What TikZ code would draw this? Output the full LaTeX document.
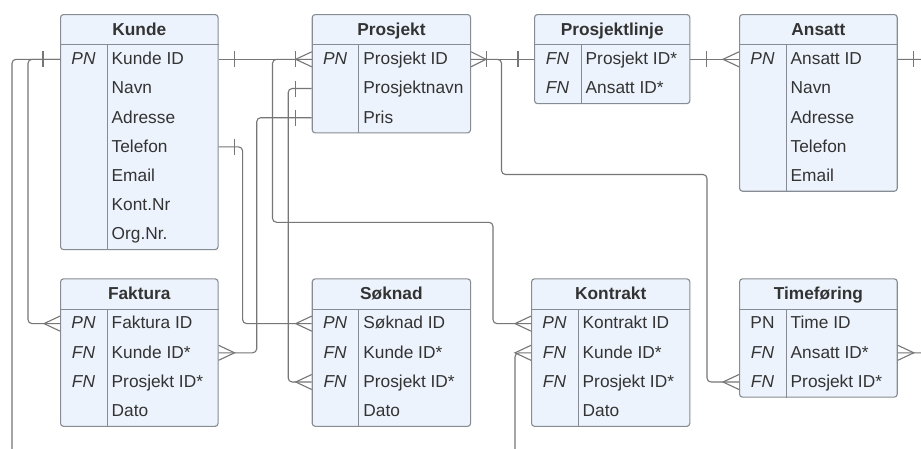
\documentclass[tikz,border=0pt]{standalone}
\usepackage{fontspec}
\setmainfont{Liberation Sans}
\usetikzlibrary{calc}

\definecolor{tblfill}{RGB}{237,243,252}
\definecolor{tbledge}{RGB}{135,140,148}
\definecolor{connline}{RGB}{118,118,118}
\definecolor{txt}{RGB}{51,51,51}

\tikzset{
  tablebox/.style={draw=tbledge, fill=tblfill, line width=1.1pt, rounded corners=3pt,
    inner sep=0pt, anchor=north west},
  tablerule/.style={draw=tbledge, line width=1pt},
  titletext/.style={font=\fontsize{17.3}{20}\selectfont\bfseries, text=txt, inner sep=0pt, anchor=base},
  keytext/.style={font=\fontsize{17.3}{20}\selectfont, text=txt, inner sep=0pt, anchor=base},
  attrtext/.style={font=\fontsize{17.3}{20}\selectfont, text=txt, inner sep=0pt, anchor=base west},
  conn/.style={draw=connline, line width=1.1pt, rounded corners=4pt},
  endmark/.style={draw=connline, line width=1.1pt},
}

\newcommand\keyPN{\textit{PN}}
\newcommand\keyFN{\textit{FN}}

% entity table: name, left, top, width, number of rows, title, key/attribute list
\newcommand\ertable[7]{%
  \node[tablebox, minimum width=#4pt, minimum height={30.7pt+#5*29.2pt}] (#1) at (#2,#3) {};
  \draw[tablerule] ($(#1.north west)+(0,30.7)$) -- ($(#1.north east)+(0,30.7)$);
  \draw[tablerule] ($(#1.north west)+(47,30.7)$) -- ($(#1.south west)+(47,0)$);
  \node[titletext] (#1-title) at ($(#1.north)+(0,21)$) {#6};
  \foreach \k/\a [count=\i] in {#7} {
    \coordinate (#1-\i-w) at ($(#1.north west)+(0,{30.7+(\i-0.5)*29.2})$);
    \coordinate (#1-\i-e) at ($(#1.north east)+(0,{30.7+(\i-0.5)*29.2})$);
    \node[keytext] (#1-\i-key) at ($(#1-\i-w)+(23.5,5.3)$) {\k};
    \node[attrtext] (#1-\i-attr) at ($(#1-\i-w)+(51.5,5.3)$) {\a};
  }%
}

% "one" bar across a connector, offset along the line from an end point
\newcommand\onebar[2]{\draw[endmark] ($(#1)+(#2,-8)$) -- ($(#1)+(#2,8)$);}
% "many" crow's foot at an end point, tip offset along the line
\newcommand\crowfoot[2]{\draw[endmark] ($(#1)+(0,-7.5)$) -- ($(#1)+(#2,0)$) -- ($(#1)+(0,7.5)$);}

\begin{document}
\begin{tikzpicture}[x=1pt, y=-1pt]
  \fill[white] (0,0) rectangle (921,448);
  \clip (0,0) rectangle (921,448);

  % ---- tables ----
  \ertable{kunde}{60}{14}{157.5}{7}{Kunde}{%
    \keyPN/Kunde ID, {}/Navn, {}/Adresse, {}/Telefon, {}/Email, {}/Kont.Nr, {}/Org.Nr.}
  \ertable{prosjekt}{311.7}{14}{158.3}{3}{Prosjekt}{%
    \keyPN/Prosjekt ID, {}/Prosjektnavn, {}/Pris}
  \ertable{prosjektlinje}{534}{14}{155.3}{2}{Prosjektlinje}{%
    \keyFN/Prosjekt ID*, \keyFN/Ansatt ID*}
  \ertable{ansatt}{739}{14}{157.7}{5}{Ansatt}{%
    \keyPN/Ansatt ID, {}/Navn, {}/Adresse, {}/Telefon, {}/Email}
  \ertable{faktura}{60}{278.3}{157.5}{4}{Faktura}{%
    \keyPN/Faktura ID, \keyFN/Kunde ID*, \keyFN/Prosjekt ID*, {}/Dato}
  \ertable{soknad}{311.7}{278.3}{158.3}{4}{Søknad}{%
    \keyPN/Søknad ID, \keyFN/Kunde ID*, \keyFN/Prosjekt ID*, {}/Dato}
  \ertable{kontrakt}{531}{278.3}{158.3}{4}{Kontrakt}{%
    \keyPN/Kontrakt ID, \keyFN/Kunde ID*, \keyFN/Prosjekt ID*, {}/Dato}
  \ertable{timeforing}{739}{278.3}{157.7}{3}{Timeføring}{%
    PN/Time ID, \keyFN/Ansatt ID*, \keyFN/Prosjekt ID*}

  % ---- routing points ----
  \coordinate (kundeLoop) at (12,470);
  \coordinate (kontraktTurn) at (272.5,222.3);
  \coordinate (timeTurn) at (501.5,174.5);
  \coordinate (ansattLoop) at (945,200);

  % ---- connectors ----
  % Kunde -> Faktura
  \draw[conn] (kunde-1-w) -- ++(-32,0) |- (faktura-1-w);
  % Kunde -> Kontrakt (Kunde ID*)
  \draw[conn] (kunde-1-w) -| (kundeLoop) -| ($(kontrakt-2-w)+(-16,0)$) -- (kontrakt-2-w);
  \onebar{kunde-1-w}{-17}
  \crowfoot{faktura-1-w}{-16}
  \crowfoot{kontrakt-2-w}{-16}

  % Kunde -> Prosjekt
  \draw[conn] (kunde-1-e) -- (prosjekt-1-w);
  \onebar{kunde-1-e}{16}
  \onebar{prosjekt-1-w}{-16}
  \crowfoot{prosjekt-1-w}{-16}

  % Prosjekt -> Kontrakt
  \draw[conn] (prosjekt-1-w) -| (kontraktTurn) -| ($(kontrakt-1-w)+(-38,0)$) -- (kontrakt-1-w);
  \crowfoot{kontrakt-1-w}{-16}

  % Prosjekt -> Soknad (Prosjekt ID*)
  \draw[conn] (prosjekt-2-w) -- ++(-23.5,0) |- (soknad-3-w);
  \onebar{prosjekt-2-w}{-16}
  \crowfoot{soknad-3-w}{-16}

  % Prosjekt -> Faktura
  \draw[conn] (prosjekt-3-w) -- ++(-55,0) |- (faktura-2-e);
  \onebar{prosjekt-3-w}{-16}
  \crowfoot{faktura-2-e}{16}

  % Kunde -> Soknad
  \draw[conn] (kunde-4-e) -- ++(24,0) |- (soknad-1-w);
  \onebar{kunde-4-e}{16}
  \crowfoot{soknad-1-w}{-16}

  % Prosjekt -> Prosjektlinje
  \draw[conn] (prosjekt-1-e) -- (prosjektlinje-1-w);
  \crowfoot{prosjekt-1-e}{15}
  \onebar{prosjekt-1-e}{15}
  \onebar{prosjektlinje-1-w}{-16}

  % Prosjekt -> Timeforing
  \draw[conn] (prosjekt-1-e) -| (timeTurn) -| ($(timeforing-3-w)+(-32,0)$) -- (timeforing-3-w);
  \crowfoot{timeforing-3-w}{-16}

  % Prosjektlinje -> Ansatt
  \draw[conn] (prosjektlinje-1-e) -- (ansatt-1-w);
  \onebar{prosjektlinje-1-e}{16}
  \crowfoot{ansatt-1-w}{-16}

  % Ansatt -> Timeforing
  \draw[conn] (ansatt-1-e) -| (ansattLoop) |- (timeforing-2-e);
  \onebar{ansatt-1-e}{16}
  \crowfoot{timeforing-2-e}{16}
\end{tikzpicture}
\end{document}
